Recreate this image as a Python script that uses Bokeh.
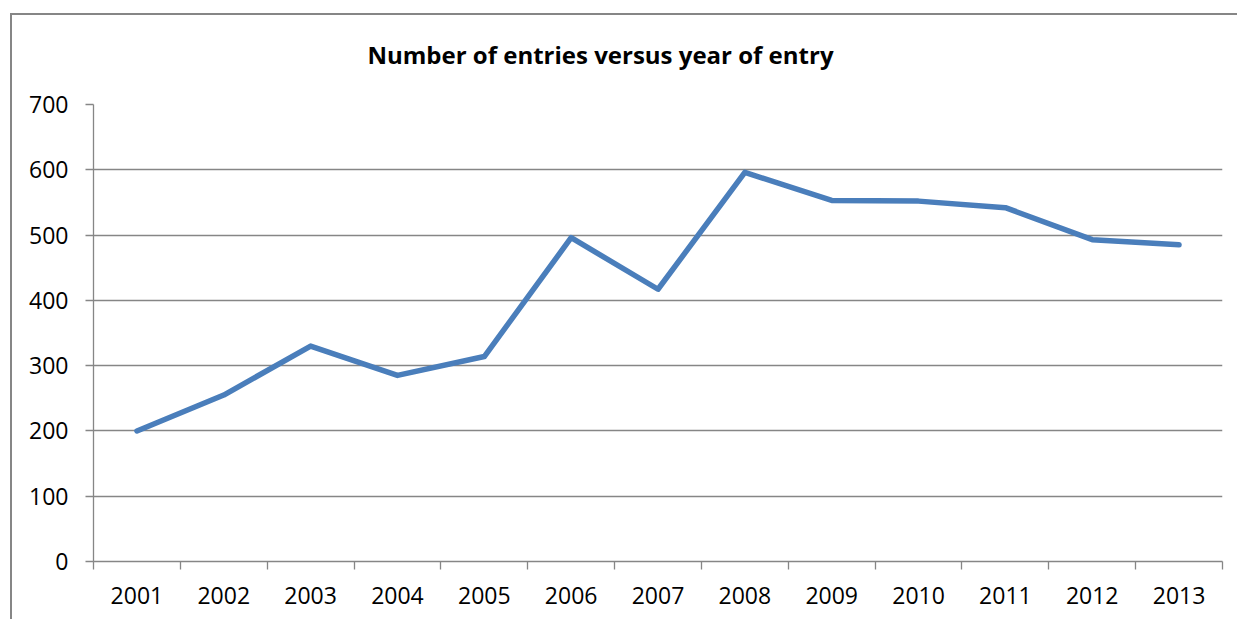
from bokeh.plotting import figure
from bokeh.models import Range1d, FixedTicker
from bokeh.embed import file_html
from bokeh.resources import INLINE

years = ["2001", "2002", "2003", "2004", "2005", "2006", "2007",
         "2008", "2009", "2010", "2011", "2012", "2013"]
entries = [200, 255, 330, 285, 314, 496, 417, 596, 553, 552, 542, 493, 485]
y_ticks = [0, 100, 200, 300, 400, 500, 600, 700]
title_text = "Number of entries versus year of entry"

n = len(years)
xs = [i + 0.5 for i in range(n)]

W, H = 1237, 619
ML, MT, MR, MB = 93, 104, 15, 58

p = figure(width=W, height=H, output_backend="svg", toolbar_location=None,
           x_range=Range1d(0, n), y_range=Range1d(0, 700),
           min_border_left=ML, min_border_right=MR, min_border_top=MT,
           min_border_bottom=MB, title=title_text)
p.outline_line_color = None
p.background_fill_color = "white"
p.border_fill_color = None
# outer chart-area border (left and top edges visible in the reference)
p.styles = {
    "background-color": "white",
    "background-image": "linear-gradient(#868686, #868686), linear-gradient(#868686, #868686)",
    "background-size": "2px 100%, 100% 2px",
    "background-position": "10px 13px, 10px 13px",
    "background-repeat": "no-repeat",
}

p.title.align = "left"
p.title.offset = 274
p.title.standoff = 68
p.title.text_font = "Open Sans"
p.title.text_font_style = "bold"
p.title.text_font_size = "24px"
p.title.text_color = "black"

p.line(xs, entries, line_color="#4A7EBB", line_width=5.5, line_join="round", line_cap="round")

# grid
p.xgrid.grid_line_color = None
p.ygrid.ticker = FixedTicker(ticks=y_ticks)
p.ygrid.grid_line_color = "#868686"
p.ygrid.grid_line_width = 1.3

# y axis
ya = p.yaxis[0]
ya.ticker = FixedTicker(ticks=y_ticks)
ya.axis_line_color = "#868686"
ya.axis_line_width = 1.3
ya.major_tick_line_color = "#868686"
ya.major_tick_line_width = 1.3
ya.major_tick_out = 8
ya.major_tick_in = 0
ya.minor_tick_line_color = None
ya.major_label_text_font = "Open Sans"
ya.major_label_text_font_size = "23px"
ya.major_label_text_color = "black"
ya.major_label_standoff = 17

# x axis
xa = p.xaxis[0]
xa.ticker = FixedTicker(ticks=xs, minor_ticks=list(range(n + 1)))
xa.major_label_overrides = {x: y for x, y in zip(xs, years)}
xa.axis_line_color = "#868686"
xa.axis_line_width = 1.3
xa.major_tick_line_color = None
xa.minor_tick_line_color = "#868686"
xa.minor_tick_line_width = 1.3
xa.minor_tick_out = 8
xa.minor_tick_in = 0
xa.major_label_text_font = "Open Sans"
xa.major_label_text_font_size = "23px"
xa.major_label_text_color = "black"
xa.major_label_standoff = 17

open("out.html", "w").write(file_html(p, INLINE))
